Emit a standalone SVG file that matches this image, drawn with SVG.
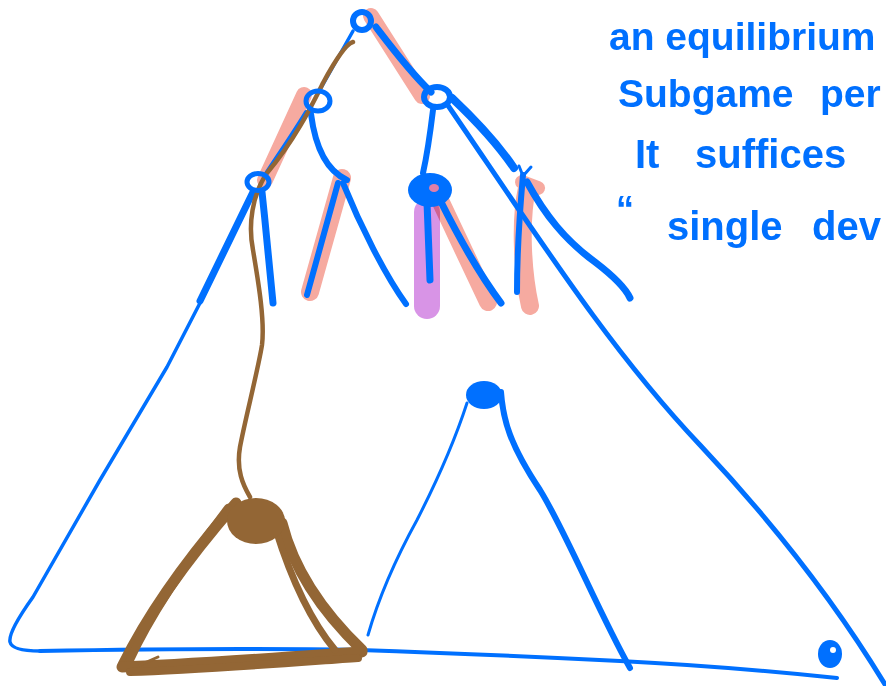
<svg xmlns="http://www.w3.org/2000/svg" width="886" height="686" viewBox="0 0 886 686">
<style>
.b{fill:none;stroke:#0070FF;stroke-linecap:round;stroke-linejoin:round}
.bf{fill:#0070FF}
.hl{fill:none;stroke:#F6AAA0;stroke-linecap:round;stroke-linejoin:round}
.pu{fill:none;stroke:#D894E6;stroke-linecap:round;mix-blend-mode:multiply}
.br{fill:none;stroke:#936635;stroke-linecap:round;stroke-linejoin:round}
.brf{fill:#936635}
.t{font-family:"Liberation Sans",Arial,sans-serif;font-weight:bold;fill:#0070FF}
</style>
<rect width="886" height="686" fill="#ffffff"/>
<g id="highlights">
<path class="hl" stroke-width="16" d="M371,16 L422,96"/>
<path class="hl" stroke-width="16" d="M304,95 L265,180"/>
<path class="hl" stroke-width="18" d="M342,178 L310,292"/>
<path class="hl" stroke-width="18" d="M438,196 L488,302"/>
<path class="hl" stroke-width="18" d="M527,188 C520,220 522,270 530,306"/>
<path class="hl" stroke-width="14" d="M522,182 L538,188"/>
<path class="pu" stroke-width="26" d="M427,212 L427,306"/>
</g>
<g id="connectors">
<path class="b" stroke-width="7" d="M376,27 C392,48 410,72 431,92"/>
<path class="b" stroke-width="3.5" d="M353,31 L321,88"/>
<path class="b" stroke-width="4" d="M306,112 C292,135 278,155 265,175"/>
<path class="b" stroke-width="7" d="M253,192 L200,301"/>
<path class="b" stroke-width="7" d="M262,192 C266,230 270,270 273,303"/>
<path class="b" stroke-width="3.5" d="M254,192 L200,303 L167,367 L100,480 L33,597 Q8,632 10,642 Q12,651 40,651"/>
<path class="b" stroke-width="4" d="M40,651 C150,649 250,648 360,650 C480,654 560,658 620,661 C680,664 760,670 837,678"/>
<path class="b" stroke-width="6" d="M311,114 C315,145 325,170 347,180"/>
<path class="b" stroke-width="6" d="M338,183 L307,295"/>
<path class="b" stroke-width="6" d="M343,183 C360,225 385,275 406,304"/>
<path class="b" stroke-width="6" d="M433,110 C430,135 427,155 423,173"/>
<path class="b" stroke-width="7" d="M427,202 L430,280"/>
<path class="b" stroke-width="7" d="M440,200 C460,240 480,275 501,303"/>
<path class="b" stroke-width="8" d="M452,98 C470,115 495,140 514,168"/>
<path class="b" stroke-width="6" d="M523,175 C519,220 517,260 517,292"/>
<path class="b" stroke-width="7" d="M527,182 C545,215 565,240 595,262 C612,275 625,287 630,298"/>
<path class="b" stroke-width="5" d="M447,104 C540,240 610,350 700,445 C780,530 840,610 886,686"/>
<path class="b" stroke-width="3" d="M467,403 C455,440 440,475 417,520 C395,560 378,600 368,635"/>
<path class="b" stroke-width="6" d="M501,392 C503,420 510,445 540,490 C565,530 600,615 630,668"/>
<path class="br" stroke-width="4.5" d="M353,42 C345,44 330,70 323,83 C312,105 295,140 267,173 C252,195 248,225 253,250 C258,280 265,320 262,345 C258,370 245,420 240,447 C236,470 243,485 250,497"/>
</g>
<g id="root"><circle class="b" cx="362" cy="21" r="9" stroke-width="6"/></g>
<g id="node-left"><ellipse class="b" cx="318" cy="101" rx="12" ry="10" stroke-width="5"/></g>
<g id="node-right"><ellipse class="b" cx="437" cy="97" rx="13" ry="10" stroke-width="6"/></g>
<g id="node-left-left"><ellipse class="b" cx="258" cy="182" rx="11" ry="8.5" stroke-width="5"/></g>
<g id="node-right-left"><ellipse class="bf" cx="430" cy="190" rx="22" ry="17"/><ellipse cx="434" cy="188" rx="5" ry="4" fill="#E07FA8"/></g>
<g id="node-right-right"><path class="b" stroke-width="3" d="M519,166 L523,176 L531,167"/></g>
<g id="node-sub"><ellipse class="bf" cx="484" cy="395" rx="18" ry="14"/></g>
<g id="node-corner"><ellipse class="bf" cx="830" cy="654" rx="12" ry="14"/><circle cx="833" cy="650" r="3" fill="#ffffff"/></g>
<g id="brown-subtree">
<path class="br" stroke-width="11" d="M236,503 C195,550 150,610 123,665"/>
<path class="br" stroke-width="8" d="M228,508 C188,560 152,612 130,660"/>
<path class="br" stroke-width="11" d="M122,667 C180,665 290,657 362,652"/>
<path class="br" stroke-width="8" d="M130,672 C200,670 300,662 358,658"/>
<path class="br" stroke-width="11" d="M282,523 C290,555 310,600 362,650"/>
<path class="br" stroke-width="7" d="M276,530 C290,575 310,620 335,650"/>
<path class="br" stroke-width="3" d="M140,665 L158,657"/>
<ellipse class="brf" cx="256" cy="521" rx="29" ry="23"/>
</g>
<g id="notes">
<text class="t" x="609" y="50" style="font-size:39px">an equilibrium</text>
<text class="t" x="618" y="107" style="font-size:39px">Subgame</text>
<text class="t" x="820" y="107" style="font-size:39px">per</text>
<text class="t" x="635" y="168" style="font-size:40px">It</text>
<text class="t" x="695" y="168" style="font-size:40px">suffices</text>
<text class="t" x="616" y="222" style="font-size:36px">“</text>
<text class="t" x="667" y="240" style="font-size:40px">single</text>
<text class="t" x="812" y="240" style="font-size:40px">dev</text>
</g>
</svg>
